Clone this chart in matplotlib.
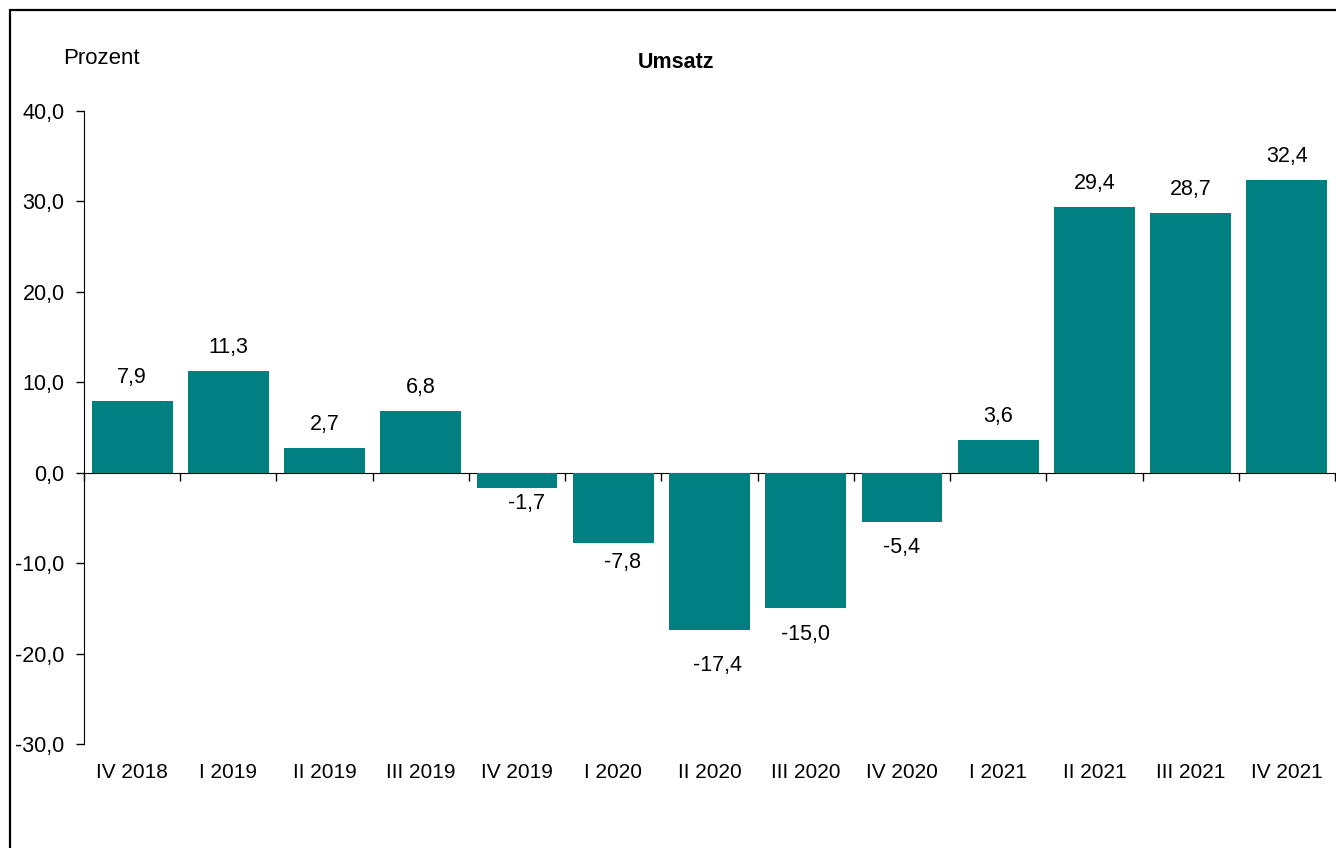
import numpy as np
import matplotlib.pyplot as plt
from matplotlib.patches import Rectangle

plt.rcParams['font.family'] = ['Liberation Sans', 'DejaVu Sans']

# Quartale und Veraenderung des Umsatzes in Prozent
quarters = ['IV 2018', 'I 2019', 'II 2019', 'III 2019', 'IV 2019', 'I 2020',
            'II 2020', 'III 2020', 'IV 2020', 'I 2021', 'II 2021', 'III 2021',
            'IV 2021']
umsatz = [7.9, 11.3, 2.7, 6.8, -1.7, -7.8, -17.4, -15.0, -5.4, 3.6, 29.4,
          28.7, 32.4]
yticks = [-30, -20, -10, 0, 10, 20, 30, 40]

# label offsets in pixels (hand placed in the original)
lab_dx = [0, 0, 0, 0, 9, 9, 8, 0, 0, 0, 0, 0, 0]
lab_dy = [23.5, 23.5, 23.5, 23.5, -15.5, -19.5, -35, -26, -26, 23.5, 23.5,
          23.5, 23.5]

W, H = 1336, 848
fig = plt.figure(figsize=(W / 100, H / 100), dpi=100)
ax = fig.add_axes([84 / W, 1 - 744 / H, (1335 - 84) / W, (744 - 111) / H])

x = np.arange(len(quarters))
ax.bar(x, umsatz, width=0.84, color='#008080', zorder=2)

ax.set_xlim(-0.5, len(quarters) - 0.5)
ax.set_ylim(-30, 40)
ax.set_yticks(yticks)
ax.yaxis.set_major_formatter(plt.FuncFormatter(lambda v, p: ('%.1f' % v).replace('.', ',')))
ax.tick_params(axis='y', direction='out', length=6, width=1, pad=8,
               labelsize=15.5)

# category labels at the bottom, no tick marks
ax.set_xticks(x)
ax.set_xticklabels(quarters)
ax.tick_params(axis='x', length=0, pad=14, labelsize=15)

for side in ['top', 'right', 'bottom']:
    ax.spines[side].set_visible(False)

# zero line with ticks between categories
sec = ax.secondary_xaxis(30 / 70)
sec.set_xticks(np.arange(-0.5, len(quarters), 1.0))
sec.set_xticklabels([])
sec.tick_params(direction='out', length=6, width=1)

# data labels
for xi, v, dx, dy in zip(x, umsatz, lab_dx, lab_dy):
    lab = ('%.1f' % v).replace('.', ',')
    ax.annotate(lab, (xi, v), xytext=(dx, dy), textcoords='offset pixels',
                ha='center', va='center', fontsize=15.5)

fig.text(63 / W, 1 - 58 / H, 'Prozent', fontsize=16, va='center', ha='left')
fig.text(676 / W, 1 - 62 / H, 'Umsatz', fontsize=15.5, fontweight='bold',
         va='center', ha='center')

# outer frame (right and bottom edge outside the picture)
fig.patches.append(Rectangle((10 / W, -0.1), 1.2, 1.1 - 10 / H,
                             transform=fig.transFigure, fill=False,
                             edgecolor='black', linewidth=1.6))

fig.savefig('out.png', dpi=100)
